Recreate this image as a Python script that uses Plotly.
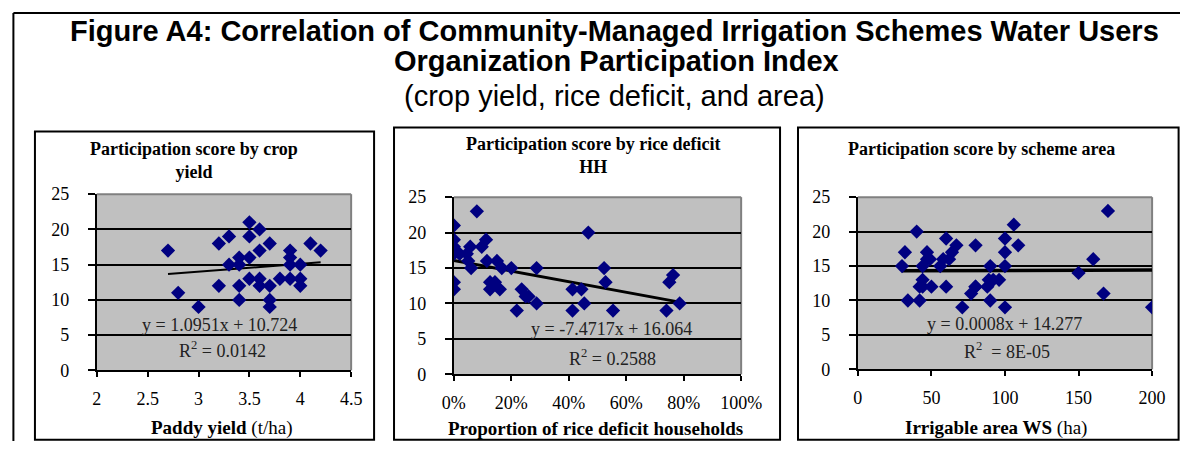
import plotly.graph_objects as go

# ---------------- data ----------------
yield_x = [2.7, 2.8, 3.0, 3.2, 3.2, 3.3, 3.3, 3.4, 3.4, 3.4, 3.4, 3.5, 3.5, 3.5, 3.5,
           3.6, 3.6, 3.6, 3.6, 3.7, 3.7, 3.7, 3.7, 3.8, 3.9, 3.9, 3.9, 3.9, 4.0, 4.0,
           4.0, 4.1, 4.2]
yield_score = [17, 11, 9, 18, 12, 19, 15, 16, 15, 12, 10, 21, 19, 16, 13,
               20, 17, 13, 12, 18, 12, 10, 9, 13, 17, 16, 15, 13, 15, 13,
               12, 18, 17]

deficit_x = [0, 0, 0, 0, 0, 0, 0.08, 0.02, 0.045, 0.057, 0.05, 0.06, 0.097, 0.112,
             0.115, 0.126, 0.126, 0.143, 0.15, 0.16, 0.167, 0.20, 0.219, 0.236, 0.25,
             0.26, 0.288, 0.288, 0.413, 0.413, 0.444, 0.454, 0.468, 0.523, 0.528,
             0.554, 0.74, 0.75, 0.763, 0.786]
deficit_score = [21, 19, 18, 17, 13, 12, 23, 17, 17, 18, 16, 15, 18, 19,
                 16, 13, 12, 13, 16, 12, 15, 15, 9, 12, 11,
                 11, 15, 10, 12, 9, 12, 10, 20, 15, 13,
                 9, 9, 13, 14, 10]

area_x = [40, 30, 32, 34, 42, 42, 44, 44, 44, 47, 47, 49, 50, 56, 58, 60, 60, 62, 64,
          67, 71, 77, 80, 80, 80, 88, 89, 90, 90, 92, 96, 100, 100, 100, 100, 106, 109,
          150, 160, 167, 170, 200]
area_score = [20, 15, 17, 10, 10, 12, 13, 12, 15, 17, 16, 16, 12, 15, 16, 19, 12, 16, 17,
              18, 9, 11, 12, 18, 12, 12, 13, 15, 10, 13, 13, 19, 17, 15, 9, 21, 18,
              14, 16, 11, 23, 9]

# trend line coefficients (slope, intercept) as printed on the chart
trend_yield = (1.0951, 10.724)
trend_deficit = (-7.4717, 16.064)
trend_area = (0.0008, 14.277)

eq_texts = ["y = 1.0951x + 10.724", "y = -7.4717x + 16.064", "y = 0.0008x + 14.277"]
r2_texts = ["R<sup>2</sup> = 0.0142", "R<sup>2</sup> = 0.2588", "R<sup>2</sup>  = 8E-05"]
panel_titles = ["Participation score by crop<br>yield",
                "Participation score by rice deficit<br>HH",
                "Participation score by scheme area"]
x_titles = ["<b>Paddy yield</b> (t/ha)",
            "<b>Proportion of rice deficit households</b>",
            "<b>Irrigable area WS</b> (ha)"]

# ---------------- layout helpers ----------------
W, H = 1201, 451
# the photographed page shows the figure slightly reduced and offset;
# positions below are given in picture pixels and mapped back here.
SX0, SXS, SY0, SYS = 9.0, 0.975, 7.0, 0.96


def px(s):
    v = (s - SX0) / SXS / W
    return min(max(v, 0.0012), 0.9988)


def py(s):
    v = 1 - ((s - SY0) / SYS) / H
    return min(max(v, 0.003), 0.997)


SERIF = "Liberation Serif, Times New Roman, serif"
SANS = "Liberation Sans, Arial, sans-serif"
NAVY = "#000080"

fig = go.Figure()

panels = [
    dict(x=yield_x, y=yield_score, trend=trend_yield, plot=(94, 349, 192, 369),
         box=(32, 372, 129, 445), xr=[2, 4.5], dt=0.5, fmt=None, tw=2,
         title_xy=(191, 158), eq_xy=(217, 323), r2_xy=(220, 348), xt_xy=(219, 427)),
    dict(x=deficit_x, y=deficit_score, trend=trend_deficit, plot=(452, 740, 195, 373),
         box=(392, 779, 125, 445), xr=[0, 1], dt=0.2, fmt=".0%", tw=3,
         title_xy=(592, 153), eq_xy=(610, 327), r2_xy=(611, 356), xt_xy=(594, 427)),
    dict(x=area_x, y=area_score, trend=trend_area, plot=(857, 1152, 195, 368),
         box=(797, 1186, 125, 445), xr=[0, 200], dt=50, fmt=None, tw=3.5,
         title_xy=(981, 147), eq_xy=(1004, 322), r2_xy=(1007, 349), xt_xy=(996, 427)),
]

shapes = []
annotations = []
for i, p in enumerate(panels, start=1):
    xa = "x" if i == 1 else f"x{i}"
    ya = "y" if i == 1 else f"y{i}"
    l, r, t, b = p["plot"]
    # trend line
    xs = [min(p["x"]), max(p["x"])]
    m, c = p["trend"]
    fig.add_trace(go.Scatter(x=xs, y=[m * v + c for v in xs], mode="lines",
                             line=dict(color="black", width=p["tw"]),
                             xaxis=xa, yaxis=ya, showlegend=False, hoverinfo="skip"))
    fig.add_trace(go.Scatter(x=p["x"], y=p["y"], mode="markers",
                             marker=dict(symbol="diamond", size=11, color=NAVY,
                                         line=dict(width=0)),
                             xaxis=xa, yaxis=ya, showlegend=False))
    xkey = "xaxis" if i == 1 else f"xaxis{i}"
    ykey = "yaxis" if i == 1 else f"yaxis{i}"
    xaxis = dict(domain=[px(l), px(r)], range=p["xr"], dtick=p["dt"], tick0=p["xr"][0],
                 showgrid=False, zeroline=False, showline=True, linecolor="black",
                 linewidth=2, ticks="outside", ticklen=5, tickwidth=2, tickcolor="black",
                 tickfont=dict(family=SERIF, size=18, color="black"), anchor=ya,
                 ticklabelstandoff=6, fixedrange=True)
    if p["fmt"]:
        xaxis["tickformat"] = p["fmt"]
    yaxis = dict(domain=[py(b), py(t)], range=[0, 25], dtick=5, showgrid=True,
                 gridcolor="black", gridwidth=2, zeroline=False, showline=True,
                 linecolor="black", linewidth=2, ticks="outside", ticklen=7,
                 tickwidth=2, tickcolor="black",
                 tickfont=dict(family=SERIF, size=18, color="black"), anchor=xa,
                 ticklabelstandoff=15, fixedrange=True)
    fig.update_layout({xkey: xaxis, ykey: yaxis})
    # plot area border (grey, top/right)
    shapes.append(dict(type="line", xref="paper", yref="paper", x0=px(l), x1=px(r),
                       y0=py(t), y1=py(t), line=dict(color="#808080", width=2), layer="above"))
    shapes.append(dict(type="line", xref="paper", yref="paper", x0=px(r), x1=px(r),
                       y0=py(t), y1=py(b), line=dict(color="#808080", width=2), layer="below"))
    # panel box
    bl, br, bt, bb = p["box"]
    shapes.append(dict(type="rect", xref="paper", yref="paper", x0=px(bl), x1=px(br),
                       y0=py(bb), y1=py(bt), line=dict(color="black", width=2),
                       fillcolor="rgba(0,0,0,0)"))
    # texts
    annotations.append(dict(text="<b>" + panel_titles[i - 1] + "</b>", xref="paper", yref="paper",
                            x=px(p["title_xy"][0]), y=py(p["title_xy"][1]),
                            xanchor="center", yanchor="middle", showarrow=False,
                            font=dict(family=SERIF, size=18, color="black")))
    annotations.append(dict(text=eq_texts[i - 1], xref="paper", yref="paper",
                            x=px(p["eq_xy"][0]), y=py(p["eq_xy"][1]),
                            xanchor="center", yanchor="middle", showarrow=False,
                            font=dict(family=SERIF, size=18, color="#222222")))
    annotations.append(dict(text=r2_texts[i - 1], xref="paper", yref="paper",
                            x=px(p["r2_xy"][0]), y=py(p["r2_xy"][1]),
                            xanchor="center", yanchor="middle", showarrow=False,
                            font=dict(family=SERIF, size=18, color="#222222")))
    annotations.append(dict(text=x_titles[i - 1], xref="paper", yref="paper",
                            x=px(p["xt_xy"][0]), y=py(p["xt_xy"][1]),
                            xanchor="center", yanchor="middle", showarrow=False,
                            font=dict(family=SERIF, size=19, color="black")))

# outer frame (top and left)
shapes.append(dict(type="line", xref="paper", yref="paper", x0=px(8), x1=1, y0=py(10), y1=py(10),
                   line=dict(color="black", width=2)))
shapes.append(dict(type="line", xref="paper", yref="paper", x0=px(8), x1=px(8), y0=py(10), y1=0,
                   line=dict(color="black", width=2)))

# main title
annotations.append(dict(text="<b>Figure A4: Correlation of Community-Managed Irrigation Schemes Water Users</b>",
                        xref="paper", yref="paper", x=px(613), y=py(28), xanchor="center",
                        yanchor="middle", showarrow=False,
                        font=dict(family=SANS, size=29, color="black")))
annotations.append(dict(text="<b>Organization Participation Index</b>",
                        xref="paper", yref="paper", x=px(615), y=py(58), xanchor="center",
                        yanchor="middle", showarrow=False,
                        font=dict(family=SANS, size=29, color="black")))
annotations.append(dict(text="(crop yield, rice deficit, and area)",
                        xref="paper", yref="paper", x=px(613), y=py(93), xanchor="center",
                        yanchor="middle", showarrow=False,
                        font=dict(family=SANS, size=29, color="black")))

fig.update_layout(width=W, height=H, margin=dict(l=0, r=0, t=0, b=0, pad=0),
                  paper_bgcolor="white", plot_bgcolor="#C0C0C0",
                  shapes=shapes, annotations=annotations, showlegend=False)

fig.write_html("out.html", config={"displayModeBar": False},
               post_script="document.documentElement.style.margin='0';"
                           "document.documentElement.style.overflow='hidden';"
                           "document.body.style.margin='0';document.body.style.padding='0';"
                           "document.body.style.overflow='hidden';")
